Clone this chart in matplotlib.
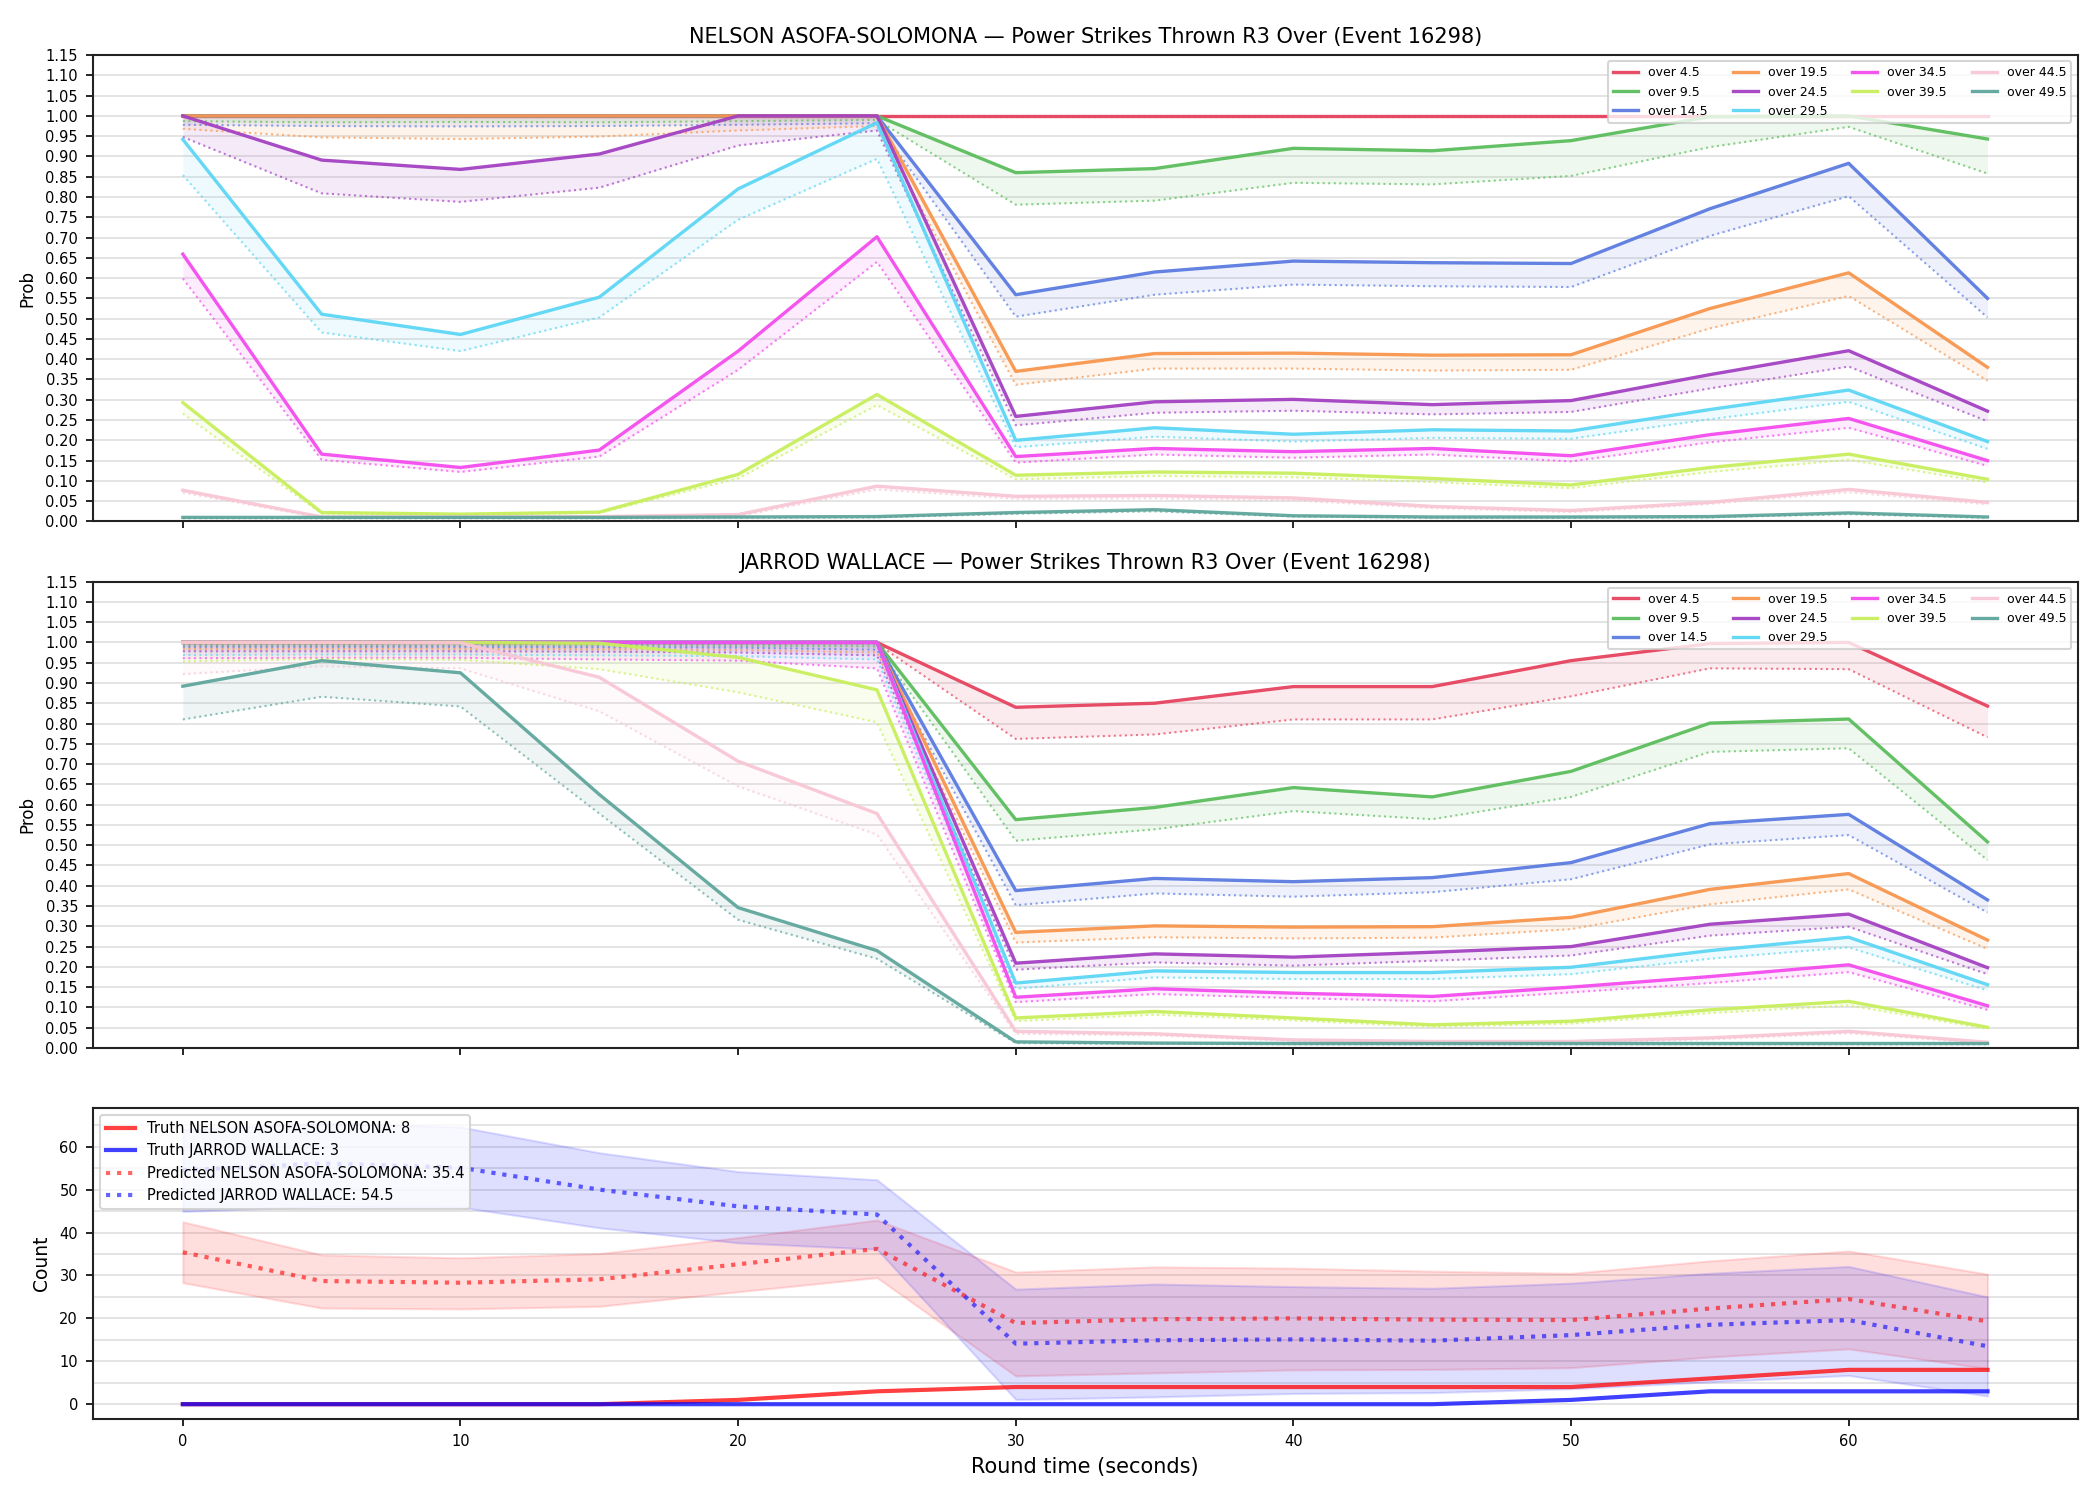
import matplotlib
matplotlib.use("Agg")
import matplotlib.pyplot as plt
from matplotlib.ticker import MultipleLocator, FormatStrFormatter
import numpy as np

# round time (seconds)
times = [0, 5, 10, 15, 20, 25, 30, 35, 40, 45, 50, 55, 60, 65]

lines = ["over 4.5", "over 9.5", "over 14.5", "over 19.5", "over 24.5",
         "over 29.5", "over 34.5", "over 39.5", "over 44.5", "over 49.5"]
colors = ["#e6435f", "#5cbd5c", "#5b7be0", "#f7964e", "#a341c2",
          "#5cd6f5", "#f44cee", "#c8ef5c", "#f8c6d4", "#5fa69c"]

# NELSON ASOFA-SOLOMONA: prob (solid) and lower band (dotted), one row per line
nelson_p = [
    [1.0, 1.0, 1.0, 1.0, 1.0, 1.0, 1.0, 1.0, 1.0, 1.0, 1.0, 1.0, 1.0, 1.0],
    [1.0, 1.0, 1.0, 1.0, 1.0, 1.0, 0.860, 0.870, 0.920, 0.914, 0.939, 0.998, 1.0, 0.943],
    [1.0, 1.0, 1.0, 1.0, 1.0, 1.0, 0.559, 0.615, 0.642, 0.638, 0.636, 0.771, 0.883, 0.550],
    [1.0, 1.0, 1.0, 1.0, 1.0, 1.0, 0.370, 0.414, 0.415, 0.410, 0.411, 0.525, 0.613, 0.380],
    [1.0, 0.891, 0.868, 0.906, 1.0, 1.0, 0.259, 0.295, 0.301, 0.288, 0.298, 0.362, 0.421, 0.272],
    [0.942, 0.511, 0.461, 0.553, 0.820, 0.983, 0.200, 0.231, 0.215, 0.226, 0.223, 0.276, 0.324, 0.197],
    [0.659, 0.166, 0.133, 0.176, 0.420, 0.702, 0.160, 0.180, 0.172, 0.180, 0.162, 0.214, 0.254, 0.150],
    [0.293, 0.022, 0.018, 0.023, 0.116, 0.313, 0.114, 0.122, 0.119, 0.106, 0.090, 0.133, 0.166, 0.104],
    [0.077, 0.011, 0.011, 0.012, 0.017, 0.087, 0.062, 0.064, 0.058, 0.037, 0.027, 0.047, 0.079, 0.047],
    [0.010, 0.010, 0.010, 0.010, 0.011, 0.012, 0.022, 0.029, 0.014, 0.011, 0.011, 0.012, 0.021, 0.011],
]
nelson_lo = [
    [0.998, 0.998, 0.998, 0.998, 0.998, 0.998, 0.998, 0.998, 0.998, 0.998, 0.998, 0.998, 0.998, 0.998],
    [0.987, 0.984, 0.985, 0.984, 0.987, 0.990, 0.781, 0.791, 0.835, 0.831, 0.852, 0.923, 0.973, 0.858],
    [0.978, 0.975, 0.974, 0.975, 0.978, 0.982, 0.505, 0.559, 0.584, 0.580, 0.578, 0.704, 0.802, 0.503],
    [0.968, 0.947, 0.943, 0.949, 0.964, 0.975, 0.337, 0.377, 0.377, 0.372, 0.374, 0.476, 0.556, 0.347],
    [0.948, 0.809, 0.788, 0.823, 0.927, 0.964, 0.237, 0.268, 0.273, 0.264, 0.270, 0.328, 0.382, 0.247],
    [0.854, 0.466, 0.420, 0.503, 0.744, 0.894, 0.183, 0.209, 0.197, 0.206, 0.204, 0.252, 0.295, 0.179],
    [0.599, 0.152, 0.122, 0.160, 0.374, 0.640, 0.145, 0.165, 0.157, 0.165, 0.148, 0.195, 0.231, 0.137],
    [0.266, 0.019, 0.016, 0.021, 0.106, 0.287, 0.104, 0.112, 0.109, 0.097, 0.082, 0.122, 0.152, 0.096],
    [0.071, 0.009, 0.009, 0.010, 0.013, 0.079, 0.056, 0.057, 0.052, 0.033, 0.023, 0.043, 0.072, 0.042],
    [0.008, 0.008, 0.008, 0.008, 0.009, 0.010, 0.019, 0.025, 0.012, 0.009, 0.009, 0.010, 0.018, 0.009],
]

# JARROD WALLACE
jarrod_p = [
    [1.0, 1.0, 1.0, 1.0, 1.0, 1.0, 0.840, 0.850, 0.891, 0.891, 0.955, 0.997, 1.0, 0.843],
    [1.0, 1.0, 1.0, 1.0, 1.0, 1.0, 0.563, 0.593, 0.642, 0.619, 0.682, 0.801, 0.811, 0.508],
    [1.0, 1.0, 1.0, 1.0, 1.0, 1.0, 0.388, 0.418, 0.410, 0.420, 0.457, 0.553, 0.576, 0.365],
    [1.0, 1.0, 1.0, 1.0, 1.0, 1.0, 0.285, 0.301, 0.298, 0.299, 0.322, 0.391, 0.430, 0.266],
    [1.0, 1.0, 1.0, 1.0, 1.0, 1.0, 0.209, 0.232, 0.224, 0.236, 0.250, 0.305, 0.330, 0.198],
    [1.0, 1.0, 1.0, 1.0, 1.0, 1.0, 0.160, 0.190, 0.186, 0.186, 0.199, 0.240, 0.273, 0.156],
    [1.0, 1.0, 1.0, 1.0, 1.0, 1.0, 0.125, 0.146, 0.135, 0.127, 0.150, 0.176, 0.205, 0.104],
    [1.0, 1.0, 1.0, 0.998, 0.963, 0.883, 0.074, 0.090, 0.074, 0.057, 0.066, 0.094, 0.115, 0.051],
    [1.0, 1.0, 0.999, 0.914, 0.707, 0.578, 0.041, 0.035, 0.020, 0.016, 0.016, 0.025, 0.041, 0.014],
    [0.892, 0.955, 0.925, 0.625, 0.346, 0.240, 0.015, 0.012, 0.011, 0.011, 0.011, 0.011, 0.011, 0.011],
]
jarrod_lo = [
    [0.997, 0.997, 0.997, 0.997, 0.997, 0.997, 0.762, 0.773, 0.810, 0.810, 0.867, 0.936, 0.934, 0.766],
    [0.993, 0.993, 0.993, 0.993, 0.992, 0.990, 0.511, 0.539, 0.584, 0.564, 0.619, 0.730, 0.739, 0.463],
    [0.989, 0.989, 0.989, 0.988, 0.987, 0.982, 0.352, 0.381, 0.373, 0.384, 0.416, 0.502, 0.525, 0.334],
    [0.984, 0.984, 0.984, 0.983, 0.981, 0.975, 0.260, 0.273, 0.270, 0.272, 0.293, 0.354, 0.391, 0.244],
    [0.978, 0.978, 0.978, 0.977, 0.975, 0.968, 0.193, 0.211, 0.203, 0.215, 0.228, 0.277, 0.299, 0.182],
    [0.969, 0.970, 0.970, 0.968, 0.966, 0.958, 0.146, 0.174, 0.170, 0.170, 0.182, 0.220, 0.248, 0.142],
    [0.961, 0.962, 0.962, 0.958, 0.955, 0.936, 0.113, 0.133, 0.123, 0.115, 0.137, 0.160, 0.187, 0.094],
    [0.953, 0.959, 0.957, 0.934, 0.877, 0.803, 0.066, 0.082, 0.068, 0.052, 0.060, 0.086, 0.105, 0.047],
    [0.922, 0.941, 0.936, 0.830, 0.645, 0.526, 0.035, 0.031, 0.017, 0.013, 0.013, 0.021, 0.036, 0.011],
    [0.810, 0.866, 0.842, 0.578, 0.316, 0.220, 0.012, 0.010, 0.009, 0.009, 0.009, 0.009, 0.009, 0.009],
]

# counts
truth_nelson = [0, 0, 0, 0, 1, 3, 4, 4, 4, 4, 4, 6, 8, 8]
truth_jarrod = [0, 0, 0, 0, 0, 0, 0, 0, 0, 0, 1, 3, 3, 3]
pred_nelson = [35.4, 28.7, 28.3, 29.1, 32.6, 36.2, 18.9, 19.8, 20.0, 19.7, 19.6, 22.3, 24.5, 19.3]
pred_nelson_hi = [42.5, 34.8, 34.1, 35.1, 38.8, 42.9, 30.8, 32.0, 31.7, 31.0, 30.5, 33.4, 35.7, 30.3]
pred_nelson_lo = [28.3, 22.4, 22.2, 22.8, 26.2, 29.5, 6.6, 7.3, 8.0, 8.1, 8.5, 11.0, 12.9, 8.3]
pred_jarrod = [54.5, 56.1, 55.1, 50.0, 46.1, 44.2, 14.1, 14.9, 15.1, 14.8, 16.1, 18.5, 19.6, 13.5]
pred_jarrod_hi = [64.0, 65.5, 64.6, 58.6, 54.2, 52.3, 26.8, 28.0, 27.4, 27.0, 28.2, 30.5, 32.1, 25.0]
pred_jarrod_lo = [44.9, 46.1, 45.9, 41.1, 37.6, 36.1, 1.1, 1.7, 2.5, 2.7, 3.6, 5.2, 6.7, 1.9]

event = 16298
nelson = "NELSON ASOFA-SOLOMONA"
jarrod = "JARROD WALLACE"

fig = plt.figure(figsize=(14, 10), dpi=150)
gs = fig.add_gridspec(3, 1, height_ratios=[3, 3, 2], left=0.0441, right=0.9894,
                      top=0.9633, bottom=0.054, hspace=0.145)
ax1 = fig.add_subplot(gs[0])
ax2 = fig.add_subplot(gs[1], sharex=ax1)
ax3 = fig.add_subplot(gs[2], sharex=ax1)


def prob_panel(ax, p, lo, name):
    for i, lab in enumerate(lines):
        ax.fill_between(times, lo[i], p[i], color=colors[i], alpha=0.1, linewidth=0)
        ax.plot(times, lo[i], ':', color=colors[i], lw=1.0, alpha=0.7)
        ax.plot(times, p[i], '-', color=colors[i], lw=1.6, alpha=0.95, label=lab)
    ax.set_ylim(0, 1.15)
    ax.yaxis.set_major_locator(MultipleLocator(0.05))
    ax.yaxis.set_major_formatter(FormatStrFormatter('%.2f'))
    ax.grid(axis='y', color='#e3e3e3', linewidth=0.9)
    ax.set_axisbelow(True)
    ax.set_ylabel("Prob", fontsize=8)
    ax.set_title(f"{name} — Power Strikes Thrown R3 Over (Event {event})", fontsize=10)
    ax.legend(loc='upper right', ncol=4, fontsize=6)
    ax.tick_params(labelsize=7)
    plt.setp(ax.get_xticklabels(), visible=False)


prob_panel(ax1, nelson_p, nelson_lo, nelson)
prob_panel(ax2, jarrod_p, jarrod_lo, jarrod)

ax3.fill_between(times, pred_nelson_lo, pred_nelson_hi, color='red', alpha=0.13)
ax3.fill_between(times, pred_jarrod_lo, pred_jarrod_hi, color='blue', alpha=0.13)
ax3.plot(times, truth_nelson, '-', color='red', lw=2, alpha=0.75,
         label=f"Truth {nelson}: {truth_nelson[-1]}")
ax3.plot(times, truth_jarrod, '-', color='blue', lw=2, alpha=0.75,
         label=f"Truth {jarrod}: {truth_jarrod[-1]}")
ax3.plot(times, pred_nelson, ':', color='red', lw=2, alpha=0.6,
         label=f"Predicted {nelson}: {pred_nelson[0]}")
ax3.plot(times, pred_jarrod, ':', color='blue', lw=2, alpha=0.6,
         label=f"Predicted {jarrod}: {pred_jarrod[0]}")
ax3.set_ylim(-3.45, 69.0)
ax3.yaxis.set_major_locator(MultipleLocator(10))
ax3.yaxis.set_minor_locator(MultipleLocator(5))
ax3.tick_params(which='minor', length=0)
ax3.grid(axis='y', which='both', color='#e3e3e3', linewidth=0.9)
ax3.set_axisbelow(True)
ax3.set_ylabel("Count", fontsize=9)
ax3.set_xlabel("Round time (seconds)", fontsize=10)
ax3.legend(loc='upper left', fontsize=7)
ax3.tick_params(labelsize=7)
ax3.xaxis.set_major_locator(MultipleLocator(10))
ax3.set_xlim(-3.25, 68.25)

for ax in (ax1, ax2, ax3):
    for s in ax.spines.values():
        s.set_color('#222222')
        s.set_linewidth(1.0)

fig.savefig("out.png", dpi=150)
